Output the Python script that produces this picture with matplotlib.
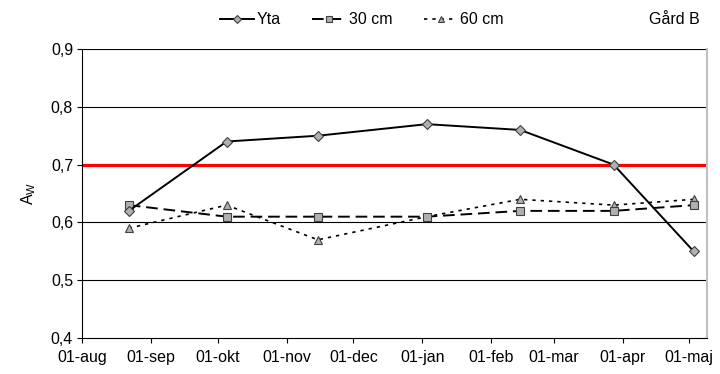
import datetime as dt

import matplotlib
matplotlib.use("Agg")
from matplotlib import pyplot as plt
import matplotlib.dates as mdates
from matplotlib.ticker import FuncFormatter, FixedLocator

plt.rcParams['font.family'] = ['Liberation Sans', 'DejaVu Sans']
plt.rcParams['mathtext.default'] = 'regular'

# data
dates = [dt.date(2005, 8, 22), dt.date(2005, 10, 5), dt.date(2005, 11, 15),
         dt.date(2006, 1, 3), dt.date(2006, 2, 14), dt.date(2006, 3, 28),
         dt.date(2006, 5, 3)]
yta = [0.62, 0.74, 0.75, 0.77, 0.76, 0.70, 0.55]
cm30 = [0.63, 0.61, 0.61, 0.61, 0.62, 0.62, 0.63]
cm60 = [0.59, 0.63, 0.57, 0.61, 0.64, 0.63, 0.64]
month_labels = ['01-aug', '01-sep', '01-okt', '01-nov', '01-dec',
                '01-jan', '01-feb', '01-mar', '01-apr', '01-maj']
month_starts = [dt.date(2005, 8, 1), dt.date(2005, 9, 1), dt.date(2005, 10, 1),
                dt.date(2005, 11, 1), dt.date(2005, 12, 1), dt.date(2006, 1, 1),
                dt.date(2006, 2, 1), dt.date(2006, 3, 1), dt.date(2006, 4, 1),
                dt.date(2006, 5, 1)]
limit = 0.7

FS = 11.5

fig = plt.figure(figsize=(7.2, 3.74), dpi=100)
ax = fig.add_axes([0.114, 0.096, 0.868, 0.773])

for y in [0.5, 0.6, 0.8, 0.9]:
    ax.axhline(y, color='black', lw=0.8, zorder=1)
ax.axhline(limit, color='#ff0000', lw=2.3, zorder=2)

mk = dict(markerfacecolor='#b0b0b0', markeredgecolor='#404040', markeredgewidth=0.8)
ax.plot(dates, yta, color='black', lw=1.4, marker='D', markersize=5.5,
        label='Yta', zorder=5, **mk)
ax.plot(dates, cm30, color='black', lw=1.4, marker='s', markersize=6,
        dashes=(6, 3), label='30 cm', zorder=4, **mk)
ax.plot(dates, cm60, color='black', lw=1.2, marker='^', markersize=6,
        dashes=(2, 3), label='60 cm', zorder=3, **mk)

ax.set_xlim(dt.date(2005, 8, 1), dt.date(2006, 5, 9))
ax.set_ylim(0.4, 0.9)

tick_nums = [mdates.date2num(d) for d in month_starts]
ax.xaxis.set_major_locator(FixedLocator(tick_nums))
ax.set_xticklabels(month_labels)
ax.set_yticks([0.4, 0.5, 0.6, 0.7, 0.8, 0.9])
ax.yaxis.set_major_formatter(FuncFormatter(lambda v, p: f'{v:.1f}'.replace('.', ',')))
ax.tick_params(labelsize=FS, direction='out', length=3.5, width=0.8, color='black')
ax.tick_params(axis='x', pad=5)
ax.tick_params(axis='y', pad=3)

for s in ['left', 'bottom']:
    ax.spines[s].set_color('black')
    ax.spines[s].set_linewidth(0.8)
ax.spines['top'].set_visible(False)
ax.spines['right'].set_color('#c0c0c0')
ax.spines['right'].set_linewidth(1.5)

ax.set_ylabel('A$_W$', fontsize=FS, labelpad=9)

fig.legend(loc='center', bbox_to_anchor=(0.503, 0.947), ncol=3, frameon=False,
           fontsize=FS, handlelength=2.1, columnspacing=1.95, handletextpad=0.2,
           markerscale=0.8)
fig.text(0.936, 0.947, 'Gård B', fontsize=FS, ha='center', va='center')

fig.savefig('out.png', dpi=100)
